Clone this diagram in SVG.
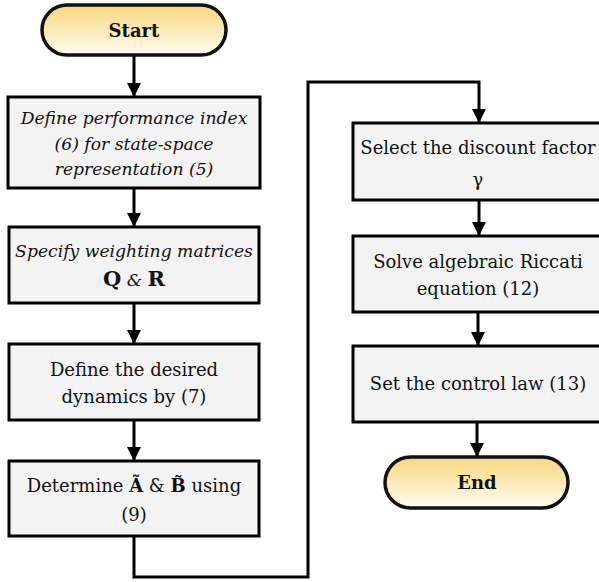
<svg xmlns="http://www.w3.org/2000/svg" width="599" height="582" viewBox="0 0 599 582">
  <style>
    .box { fill: #f3f3f3; stroke: #000; stroke-width: 3; }
    .term { fill: url(#termFill); stroke: #111; stroke-width: 3.5; }
    .t { font-family: "DejaVu Serif", "Liberation Serif", serif; font-size: 18px; fill: #111; text-anchor: middle; }
    .it { font-style: italic; font-size: 17.2px; }
    .b { font-weight: bold; }
    .wire { fill: none; stroke: #000; stroke-width: 3; }
  </style>
  <defs>
    <linearGradient id="termFill" x1="0" y1="0" x2="0" y2="1">
      <stop offset="0" stop-color="#f8d67c"/>
      <stop offset="1" stop-color="#fffdf2"/>
    </linearGradient>
    <marker id="arrow" viewBox="0 0 14 14" refX="14" refY="7" markerWidth="14" markerHeight="14" markerUnits="userSpaceOnUse" orient="auto">
      <path d="M0,0 L14,7 L0,14 Z" fill="#000"/>
    </marker>
  </defs>

  <rect width="599" height="582" fill="#fff"/>

  <g id="connectors">
    <line class="wire" x1="134" y1="55" x2="134" y2="97" marker-end="url(#arrow)"/>
    <line class="wire" x1="134" y1="188" x2="134" y2="227" marker-end="url(#arrow)"/>
    <line class="wire" x1="134" y1="303" x2="134" y2="344" marker-end="url(#arrow)"/>
    <line class="wire" x1="134" y1="420" x2="134" y2="461" marker-end="url(#arrow)"/>
    <polyline class="wire" points="134,536 134,577 308,577 308,82 479,82 479,123" marker-end="url(#arrow)"/>
    <line class="wire" x1="479" y1="200" x2="479" y2="236" marker-end="url(#arrow)"/>
    <line class="wire" x1="478" y1="312" x2="478" y2="346" marker-end="url(#arrow)"/>
    <line class="wire" x1="477" y1="422" x2="477" y2="457" marker-end="url(#arrow)"/>
  </g>

  <g id="start">
    <rect class="term" x="42" y="5" width="184" height="50" rx="25"/>
    <text class="t b" x="134" y="37">Start</text>
  </g>

  <g id="perf-index">
    <rect class="box" x="8" y="97" width="252" height="91"/>
    <text class="t it" x="134" y="124">Define performance index</text>
    <text class="t it" x="134" y="150">(6) for state-space</text>
    <text class="t it" x="134" y="175">representation (5)</text>
  </g>

  <g id="weights">
    <rect class="box" x="9" y="227" width="250" height="76"/>
    <text class="t it" x="134" y="257">Specify weighting matrices</text>
    <text class="t" x="134" y="286"><tspan class="b" font-size="21">Q</tspan><tspan class="it"> &amp; </tspan><tspan class="b" font-size="21">R</tspan></text>
  </g>

  <g id="dynamics">
    <rect class="box" x="9" y="344" width="250" height="76"/>
    <text class="t" x="134" y="376">Define the desired</text>
    <text class="t" x="134" y="403">dynamics by (7)</text>
  </g>

  <g id="determine">
    <rect class="box" x="9" y="461" width="250" height="75"/>
    <text class="t" x="134" y="492">Determine <tspan class="b">Ã</tspan> &amp; <tspan class="b">B̃</tspan> using</text>
    <text class="t" x="134" y="521">(9)</text>
  </g>

  <g id="discount">
    <rect class="box" x="353" y="123" width="250" height="77"/>
    <text class="t" x="478" y="154">Select the discount factor</text>
    <text class="t" x="478" y="186">γ</text>
  </g>

  <g id="riccati">
    <rect class="box" x="353" y="236" width="250" height="76"/>
    <text class="t" x="478" y="268">Solve algebraic Riccati</text>
    <text class="t" x="478" y="295">equation (12)</text>
  </g>

  <g id="control-law">
    <rect class="box" x="353" y="346" width="250" height="76"/>
    <text class="t" x="478" y="390">Set the control law  (13)</text>
  </g>

  <g id="end">
    <rect class="term" x="385" y="457" width="183" height="51" rx="25.5"/>
    <text class="t b" x="477" y="489">End</text>
  </g>
</svg>
